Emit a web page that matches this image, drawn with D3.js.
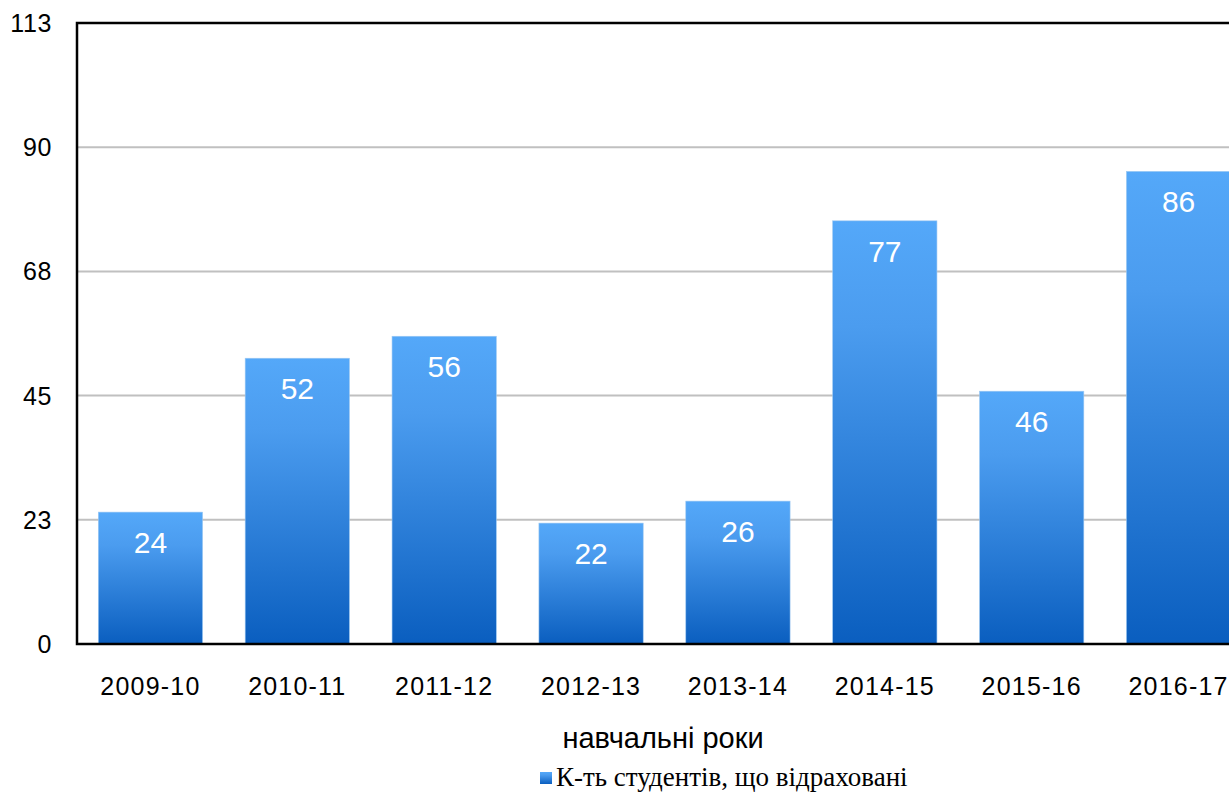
<!DOCTYPE html>
<html>
<head>
<meta charset="utf-8">
<script src="https://cdnjs.cloudflare.com/ajax/libs/d3/7.8.5/d3.min.js"></script>
<style>
  body { margin: 0; background: #fff; }
  svg { display: block; }
</style>
</head>
<body>
<div class="canvas"></div>
<script>
const years = ['2009-10', '2010-11', '2011-12', '2012-13', '2013-14', '2014-15', '2015-16', '2016-17'];
const expelled = [24, 52, 56, 22, 26, 77, 46, 86];
const tickLabels = ['0', '23', '45', '68', '90', '113'];
const yMax = 113;
const seriesName = 'К-ть студентів, що відраховані';
const axisTitle = 'навчальні роки';

const svg = d3.select('.canvas')
    .append('svg')
    .attr('width', 1229)
    .attr('height', 792);

// gradient for bars
const defs = svg.append('defs');
const grad = defs.append('linearGradient')
    .attr('id', 'barGrad')
    .attr('x1', 0).attr('y1', 0)
    .attr('x2', 0).attr('y2', 1);
grad.append('stop').attr('offset', '0%').attr('stop-color', '#54a8f9');
grad.append('stop').attr('offset', '25%').attr('stop-color', '#4b9cef');
grad.append('stop').attr('offset', '100%').attr('stop-color', '#0a5ebf');

const plotTop = 23, plotBottom = 644, plotLeft = 77, plotRight = 1252;

const x = d3.scaleBand()
    .domain(years)
    .range([plotLeft, plotRight])
    .paddingInner(0.29)
    .paddingOuter(0.145);

const y = d3.scaleLinear()
    .domain([0, yMax])
    .range([plotBottom, plotTop]);

const tickVals = tickLabels.map((t, i) => i * yMax / (tickLabels.length - 1));

// gridlines
svg.append('g')
    .selectAll('line')
    .data(tickVals.slice(1, -1))
    .enter()
    .append('line')
    .attr('x1', plotLeft).attr('x2', plotRight)
    .attr('y1', d => y(d)).attr('y2', d => y(d))
    .attr('stroke', '#c0c0c0')
    .attr('stroke-width', 2);

// y tick labels
svg.append('g')
    .selectAll('text')
    .data(tickVals)
    .enter()
    .append('text')
    .attr('x', 52)
    .attr('y', d => y(d))
    .attr('dy', '0.36em')
    .attr('text-anchor', 'end')
    .attr('font-family', 'Liberation Sans, Arial, sans-serif')
    .attr('font-size', 25)
    .attr('letter-spacing', 0.6)
    .attr('fill', '#000')
    .text((d, i) => tickLabels[i]);

// bars
const bars = svg.append('g')
    .selectAll('g')
    .data(years)
    .enter()
    .append('g');

bars.append('rect')
    .attr('x', d => x(d))
    .attr('y', (d, i) => y(expelled[i]))
    .attr('width', x.bandwidth())
    .attr('height', (d, i) => plotBottom - y(expelled[i]))
    .attr('fill', 'url(#barGrad)')
    .attr('stroke', '#9cc8f2')
    .attr('stroke-width', 0.6);

bars.append('text')
    .attr('x', d => x(d) + x.bandwidth() / 2)
    .attr('y', (d, i) => y(expelled[i]) + 41)
    .attr('text-anchor', 'middle')
    .attr('font-family', 'Liberation Sans, Arial, sans-serif')
    .attr('font-size', 30)
    .attr('fill', '#fff')
    .text((d, i) => expelled[i]);

// x labels
svg.append('g')
    .selectAll('text')
    .data(years)
    .enter()
    .append('text')
    .attr('x', d => x(d) + x.bandwidth() / 2)
    .attr('y', 695)
    .attr('text-anchor', 'middle')
    .attr('font-family', 'Liberation Sans, Arial, sans-serif')
    .attr('font-size', 25)
    .attr('letter-spacing', 1.2)
    .attr('fill', '#000')
    .text(d => d);

// frame
svg.append('path')
    .attr('d', `M${plotRight},${plotTop}H${plotLeft}V${plotBottom}H${plotRight}`)
    .attr('fill', 'none')
    .attr('stroke', '#000')
    .attr('stroke-width', 2.5);

// axis title
svg.append('text')
    .attr('x', 663)
    .attr('y', 748)
    .attr('text-anchor', 'middle')
    .attr('font-family', 'Liberation Sans, Arial, sans-serif')
    .attr('font-size', 29)
    .attr('fill', '#000')
    .text(axisTitle);

// legend
const legend = svg.append('g').attr('transform', 'translate(540, 772)');
legend.append('rect')
    .attr('width', 12).attr('height', 12)
    .attr('fill', 'url(#barGrad)');
legend.append('text')
    .attr('x', 16)
    .attr('y', 14)
    .attr('font-family', 'Liberation Serif, Times New Roman, serif')
    .attr('font-size', 27)
    .attr('fill', '#000')
    .text(seriesName);
</script>
</body>
</html>
